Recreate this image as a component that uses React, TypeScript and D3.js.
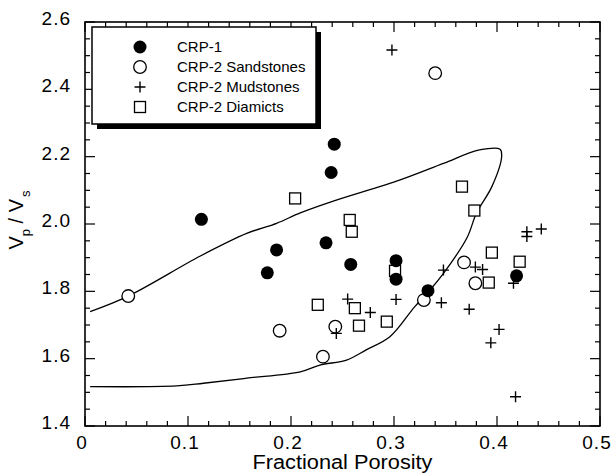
import * as d3 from 'd3';

// data: [fractional porosity, Vp/Vs]
const crp1: [number, number][] = [
	[0.113, 2.014], [0.177, 1.855], [0.186, 1.923], [0.234, 1.944],
	[0.239, 2.153], [0.242, 2.237], [0.258, 1.88], [0.302, 1.891],
	[0.302, 1.836], [0.333, 1.802], [0.419, 1.846],
];
const sandstones: [number, number][] = [
	[0.042, 1.786], [0.189, 1.683], [0.231, 1.606], [0.243, 1.695],
	[0.329, 1.774], [0.34, 2.448], [0.368, 1.886], [0.379, 1.824],
];
const mudstones: [number, number][] = [
	[0.298, 2.517], [0.429, 1.977], [0.429, 1.963], [0.443, 1.985],
	[0.348, 1.863], [0.379, 1.872], [0.386, 1.865], [0.255, 1.777],
	[0.244, 1.675], [0.277, 1.737], [0.302, 1.776], [0.346, 1.766],
	[0.373, 1.747], [0.402, 1.687], [0.394, 1.647], [0.418, 1.487],
	[0.416, 1.824],
];
const diamicts: [number, number][] = [
	[0.204, 2.076], [0.226, 1.76], [0.257, 2.012], [0.259, 1.977],
	[0.262, 1.75], [0.266, 1.698], [0.293, 1.71], [0.301, 1.861],
	[0.366, 2.111], [0.378, 2.04], [0.392, 1.826], [0.395, 1.915],
	[0.422, 1.888],
];
// bounding envelope: upper branch, right branch, lower branch
const envelope: [number, number][] = [
	[0.005, 1.74], [0.042, 1.786], [0.112, 1.905], [0.157, 1.972],
	[0.186, 2.002], [0.209, 2.033], [0.241, 2.068], [0.306, 2.131],
	[0.348, 2.18], [0.383, 2.22], [0.403, 2.222], [0.4045, 2.2],
	[0.395, 2.111], [0.38, 2.032], [0.371, 1.96], [0.348, 1.853],
	[0.335, 1.804], [0.32, 1.754], [0.296, 1.665], [0.273, 1.626],
	[0.254, 1.596], [0.228, 1.581], [0.209, 1.561], [0.157, 1.542],
	[0.115, 1.527], [0.089, 1.519], [0.005, 1.517],
];
const xTicks = [0, 0.1, 0.2, 0.3, 0.4, 0.5];
const yTicks = [1.4, 1.6, 1.8, 2.0, 2.2, 2.4, 2.6];
const legendLabels = ['CRP-1', 'CRP-2 Sandstones', 'CRP-2 Mudstones', 'CRP-2 Diamicts'];

const W = 612;
const H = 473;
const FONT = '"Liberation Sans", Arial, Helvetica, sans-serif';

function Marker({ kind, cx, cy }: { kind: number; cx: number; cy: number }) {
	if (kind === 0) return <circle cx={cx} cy={cy} r={6.5} fill="#000" />;
	if (kind === 1)
		return <circle cx={cx} cy={cy} r={6.3} fill="#fff" stroke="#000" strokeWidth={1.3} />;
	if (kind === 2)
		return (
			<path
				d={`M${cx - 5.5},${cy}H${cx + 5.5}M${cx},${cy - 5.5}V${cy + 5.5}`}
				stroke="#000"
				strokeWidth={1.4}
				fill="none"
			/>
		);
	return (
		<rect x={cx - 5.5} y={cy - 5.5} width={11} height={11} fill="#fff" stroke="#000" strokeWidth={1.3} />
	);
}

export default function App() {
	const x = d3.scaleLinear().domain([0, 0.5]).range([85, 600]);
	const y = d3.scaleLinear().domain([1.4, 2.6]).range([426, 22]);
	const [x0, x1] = x.range();
	const [y0, y1] = y.range();

	const xMinor = d3.range(0, 0.5001, 0.02);
	const yMinor = d3.range(1.4, 2.6001, 0.05);
	const isMajorX = (v: number) => Math.abs(v * 10 - Math.round(v * 10)) < 1e-6;
	const isMajorY = (v: number) => Math.abs(v * 5 - Math.round(v * 5)) < 1e-6;

	const line = d3
		.line<[number, number]>()
		.curve(d3.curveCatmullRom.alpha(0.5))
		.x((d) => x(d[0]))
		.y((d) => y(d[1]));

	const series = [crp1, sandstones, mudstones, diamicts];
	const drawOrder = [3, 1, 2, 0];

	return (
		<svg width={W} height={H} style={{ display: 'block', position: 'absolute', left: 0, top: 0, background: '#fff' }} fontFamily={FONT}>
			<rect width={W} height={H} fill="#fff" />

			{/* envelope */}
			<path d={line(envelope) ?? ''} fill="none" stroke="#000" strokeWidth={1.3} />

			{/* points */}
			{drawOrder.map((k) =>
				series[k].map((d, i) => <Marker key={`${k}-${i}`} kind={k} cx={x(d[0])} cy={y(d[1])} />),
			)}

			{/* ticks */}
			<g stroke="#000" strokeWidth={1.2}>
				{xMinor.map((v, i) => {
					const len = isMajorX(v) ? 10 : 5;
					return (
						<g key={`xt${i}`}>
							<line x1={x(v)} x2={x(v)} y1={y0} y2={y0 - len} />
							<line x1={x(v)} x2={x(v)} y1={y1} y2={y1 + len} />
						</g>
					);
				})}
				{yMinor.map((v, i) => {
					const len = isMajorY(v) ? 10 : 5;
					return (
						<g key={`yt${i}`}>
							<line x1={x0} x2={x0 + len} y1={y(v)} y2={y(v)} />
							<line x1={x1} x2={x1 - len} y1={y(v)} y2={y(v)} />
						</g>
					);
				})}
			</g>
			<rect x={x0} y={y1} width={x1 - x0} height={y0 - y1} fill="none" stroke="#000" strokeWidth={1.6} />

			{/* tick labels */}
			{xTicks.map((v) => (
				<text key={`xl${v}`} x={x(v) - 3} y={y0 + 23} textAnchor="middle" fontSize={19} letterSpacing={1}>
					{v === 0 ? '0' : v.toFixed(1)}
				</text>
			))}
			{yTicks.map((v) => (
				<text key={`yl${v}`} x={x0 - 14} y={y(v) + 3} textAnchor="end" fontSize={19} letterSpacing={1}>
					{v.toFixed(1)}
				</text>
			))}

			{/* axis titles */}
			<text x={(x0 + x1) / 2} y={469} textAnchor="middle" fontSize={20} textLength={180} lengthAdjust="spacingAndGlyphs">
				Fractional Porosity
			</text>
			<text transform={`translate(23,${(y0 + y1) / 2 - 4}) rotate(-90)`} textAnchor="middle" fontSize={20}>
				<tspan>V</tspan>
				<tspan fontSize={13} dy={7}>p</tspan>
				<tspan dy={-7}> / V</tspan>
				<tspan fontSize={13} dy={7} dx={2}>s</tspan>
			</text>

			{/* legend */}
			<rect x={97} y={32} width={224} height={97} fill="#000" />
			<rect x={92} y={27} width={224} height={97} fill="#fff" stroke="#000" strokeWidth={1.5} />
			{legendLabels.map((lab, i) => (
				<g key={lab}>
					<Marker kind={i} cx={140} cy={47 + i * 20} />
					<text x={177} y={47 + i * 20 + 5} fontSize={15}>
						{lab}
					</text>
				</g>
			))}
		</svg>
	);
}
